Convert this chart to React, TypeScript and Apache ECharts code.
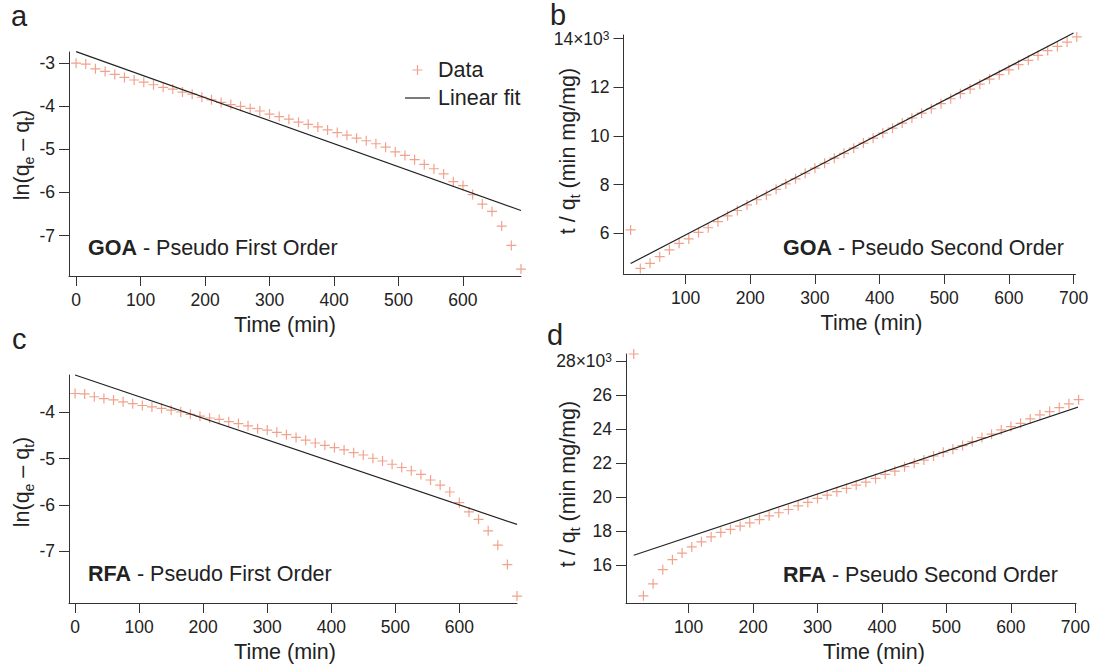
import React, { useEffect, useRef } from "react";
import * as echarts from "echarts";

// ---------- data ----------
const timeAC = [0, 15, 30, 45, 60, 75, 90, 105, 120, 135, 150, 165, 180, 195, 210, 225, 240, 255, 270, 285, 300, 315, 330, 345, 360, 375, 390, 405, 420, 435, 450, 465, 480, 495, 510, 525, 540, 555, 570, 585, 600, 615, 630, 645, 660, 675, 690];
const timeBD = [15, 30, 45, 60, 75, 90, 105, 120, 135, 150, 165, 180, 195, 210, 225, 240, 255, 270, 285, 300, 315, 330, 345, 360, 375, 390, 405, 420, 435, 450, 465, 480, 495, 510, 525, 540, 555, 570, 585, 600, 615, 630, 645, 660, 675, 690, 705];

const lnGOA = [-3.0, -3.02, -3.13, -3.19, -3.26, -3.33, -3.39, -3.44, -3.5, -3.56, -3.6, -3.67, -3.72, -3.79, -3.85, -3.91, -3.96, -4.0, -4.05, -4.11, -4.18, -4.24, -4.3, -4.37, -4.42, -4.48, -4.55, -4.61, -4.67, -4.74, -4.8, -4.87, -4.95, -5.06, -5.14, -5.24, -5.35, -5.45, -5.57, -5.75, -5.84, -6.05, -6.27, -6.44, -6.78, -7.23, -7.78];
const tqGOA = [6140, 4560, 4770, 5040, 5320, 5590, 5770, 6040, 6230, 6480, 6720, 6940, 7170, 7380, 7580, 7810, 8030, 8240, 8470, 8680, 8880, 9090, 9290, 9500, 9710, 9910, 10120, 10320, 10530, 10740, 10940, 11120, 11330, 11530, 11740, 11930, 12130, 12340, 12520, 12720, 12930, 13110, 13310, 13510, 13680, 13860, 14070];
const lnRFA = [-3.59, -3.6, -3.66, -3.7, -3.73, -3.77, -3.81, -3.85, -3.88, -3.91, -3.95, -3.99, -4.04, -4.08, -4.12, -4.15, -4.2, -4.24, -4.29, -4.35, -4.38, -4.43, -4.48, -4.54, -4.6, -4.66, -4.71, -4.76, -4.81, -4.87, -4.92, -4.99, -5.05, -5.12, -5.19, -5.26, -5.34, -5.46, -5.57, -5.72, -5.95, -6.15, -6.31, -6.56, -6.87, -7.29, -7.97];
const tqRFA = [28430, 14200, 14910, 15740, 16330, 16720, 17080, 17380, 17670, 17930, 18110, 18300, 18500, 18690, 18910, 19090, 19280, 19500, 19700, 19930, 20130, 20330, 20520, 20720, 20890, 21110, 21350, 21540, 21800, 22000, 22190, 22430, 22650, 22820, 23040, 23280, 23510, 23710, 23960, 24160, 24350, 24610, 24850, 25040, 25280, 25500, 25740];

// linear fits (end points)
const fitGOA1T = [0, 690];
const fitGOA1Y = [-2.73, -6.42];
const fitGOA2T = [15, 700];
const fitGOA2Y = [4760, 14230];
const fitRFA1T = [0, 690];
const fitRFA1Y = [-3.19, -6.42];
const fitRFA2T = [15, 705];
const fitRFA2Y = [16590, 25310];

// tick values
const xTicksAC = [0, 100, 200, 300, 400, 500, 600];
const xTicksBD = [100, 200, 300, 400, 500, 600, 700];
const yTicksA = [-7, -6, -5, -4, -3];
const yTicksB = [6000, 8000, 10000, 12000, 14000];
const yTicksC = [-7, -6, -5, -4];
const yTicksD = [16000, 18000, 20000, 22000, 24000, 26000, 28000];

const panelLetters = ["a", "b", "c", "d"];
const annotations = [
  ["GOA", " - Pseudo First Order"],
  ["GOA", " - Pseudo Second Order"],
  ["RFA", " - Pseudo First Order"],
  ["RFA", " - Pseudo Second Order"],
];

// ---------- styles ----------
const FONT = "'Liberation Sans', Arial, Helvetica, sans-serif";
const INK = "#222";
const AXIS = "#333";
const DATA_COLOR = "#ef8b6f";
const PLUS = "path://M0,4.4H10V5.6H0ZM4.4,0H5.6V10H4.4Z";

const zip = (xs: number[], ys: number[]) => xs.map((x, i) => [x, ys[i]]);

function xAxis(gridIndex: number, min: number, max: number, ticks: number[], shift: number) {
  return {
    type: "value",
    gridIndex,
    min,
    max,
    name: "Time (min)",
    nameLocation: "middle",
    nameGap: 38,
    nameTextStyle: {
      fontSize: 21.5,
      color: INK,
      fontFamily: FONT,
      padding: shift >= 0 ? [0, 0, 0, 2 * shift] : [0, -2 * shift, 0, 0],
    },
    axisLine: { show: true, onZero: false, lineStyle: { color: AXIS, width: 1 } },
    axisTick: { show: true, length: 10, customValues: ticks, lineStyle: { color: AXIS, width: 1 } },
    axisLabel: { customValues: ticks, margin: 15, fontSize: 17.5, color: INK, fontFamily: FONT },
    splitLine: { show: false },
  };
}

function yAxis(gridIndex: number, min: number, max: number, ticks: number[], thousands: boolean) {
  const top = ticks[ticks.length - 1];
  return {
    type: "value",
    gridIndex,
    min,
    max,
    axisLine: { show: true, onZero: false, lineStyle: { color: AXIS, width: 1 } },
    axisTick: { show: true, length: 10, customValues: ticks, lineStyle: { color: AXIS, width: 1 } },
    axisLabel: {
      customValues: ticks,
      margin: 14,
      fontSize: 17.5,
      color: INK,
      fontFamily: FONT,
      formatter: (v: number) => {
        if (!thousands) return String(v);
        const k = Math.round(v / 1000);
        return v === top ? `${k}×10{p|3}` : `${k}`;
      },
      rich: {
        p: { fontSize: 12, verticalAlign: "top", color: INK, fontFamily: FONT, lineHeight: 12 },
      },
    },
    splitLine: { show: false },
  };
}

function yTitle(x: number, y: number, parts: string) {
  return {
    type: "text",
    x,
    y,
    rotation: Math.PI / 2,
    style: {
      text: parts,
      align: "center",
      verticalAlign: "middle",
      fontSize: 21.5,
      fontFamily: FONT,
      fill: INK,
      lineHeight: 28,
      rich: {
        s: { fontSize: 14, fontFamily: FONT, fill: INK, verticalAlign: "bottom", lineHeight: 14 },
      },
    },
  };
}

function note(x: number, y: number, idx: number) {
  const [b, rest] = annotations[idx];
  return {
    type: "text",
    x,
    y,
    style: {
      text: `{b|${b}}{n|${rest}}`,
      verticalAlign: "middle",
      fontSize: 21.5,
      fontFamily: FONT,
      fill: INK,
      rich: {
        b: { fontSize: 21.5, fontFamily: FONT, fontWeight: "bold", fill: INK },
        n: { fontSize: 21.5, fontFamily: FONT, fill: INK },
      },
    },
  };
}

function letter(x: number, y: number, idx: number) {
  return {
    type: "text",
    x,
    y,
    style: {
      text: panelLetters[idx],
      fontSize: 29,
      fontFamily: FONT,
      fill: INK,
      verticalAlign: "top",
    },
  };
}

function scatter(i: number, xs: number[], ys: number[]) {
  return {
    type: "scatter",
    name: "Data",
    xAxisIndex: i,
    yAxisIndex: i,
    data: zip(xs, ys),
    symbol: PLUS,
    symbolSize: 10,
    itemStyle: { color: DATA_COLOR },
    clip: false,
    silent: true,
  };
}

function fit(i: number, xs: number[], ys: number[]) {
  return {
    type: "line",
    name: "Linear fit",
    xAxisIndex: i,
    yAxisIndex: i,
    data: zip(xs, ys),
    symbol: "none",
    lineStyle: { color: INK, width: 1.2 },
    itemStyle: { color: INK },
    clip: false,
    silent: true,
  };
}

export default function App() {
  const ref = useRef<HTMLDivElement>(null);
  useEffect(() => {
    if (!ref.current) return;
    const chart = echarts.init(ref.current, undefined, { renderer: "svg" });
    chart.setOption({
      animation: false,
      backgroundColor: "#fff",
      textStyle: { fontFamily: FONT },
      grid: [
        { left: 69, top: 52, width: 452, height: 224 },
        { left: 623.5, top: 35, width: 452, height: 239 },
        { left: 69, top: 375, width: 448, height: 228 },
        { left: 626, top: 354, width: 452, height: 249 },
      ],
      xAxis: [
        xAxis(0, -11, 690, xTicksAC, -10),
        xAxis(1, 4, 703, xTicksBD, 22),
        xAxis(2, -9.5, 690, xTicksAC, -8),
        xAxis(3, 3, 701, xTicksBD, 23),
      ],
      yAxis: [
        yAxis(0, -7.94, -2.74, yTicksA, false),
        yAxis(1, 4330, 14150, yTicksB, true),
        yAxis(2, -8.12, -3.19, yTicksC, false),
        yAxis(3, 13780, 28430, yTicksD, true),
      ],
      legend: {
        left: 400,
        top: 54,
        orient: "vertical",
        itemWidth: 25,
        itemHeight: 10,
        itemGap: 6,
        selectedMode: false,
        textStyle: { fontSize: 21.5, color: INK, fontFamily: FONT, padding: [0, 0, 0, 3] },
        data: [
          { name: "Data", icon: PLUS },
          { name: "Linear fit", icon: "path://M0,0H25V1.2H0Z" },
        ],
      },
      graphic: [
        letter(11, 1, 0),
        letter(550, 0, 1),
        letter(12, 324, 2),
        letter(547, 320, 3),
        yTitle(21.5, 155, "ln(q{s|e} – q{s|t})"),
        yTitle(568, 151, "t / q{s|t} (min mg/mg)"),
        yTitle(21.5, 482, "ln(q{s|e} – q{s|t})"),
        yTitle(568, 484, "t / q{s|t} (min mg/mg)"),
        note(88, 248, 0),
        note(783, 248, 1),
        note(88, 574, 2),
        note(783, 575, 3),
      ],
      series: [
        scatter(0, timeAC, lnGOA),
        fit(0, fitGOA1T, fitGOA1Y),
        scatter(1, timeBD, tqGOA),
        fit(1, fitGOA2T, fitGOA2Y),
        scatter(2, timeAC, lnRFA),
        fit(2, fitRFA1T, fitRFA1Y),
        scatter(3, timeBD, tqRFA),
        fit(3, fitRFA2T, fitRFA2Y),
      ],
    });
    return () => chart.dispose();
  }, []);
  return (
    <div
      ref={ref}
      style={{ position: "absolute", left: 0, top: 0, width: 1093, height: 667, background: "#fff" }}
    />
  );
}
